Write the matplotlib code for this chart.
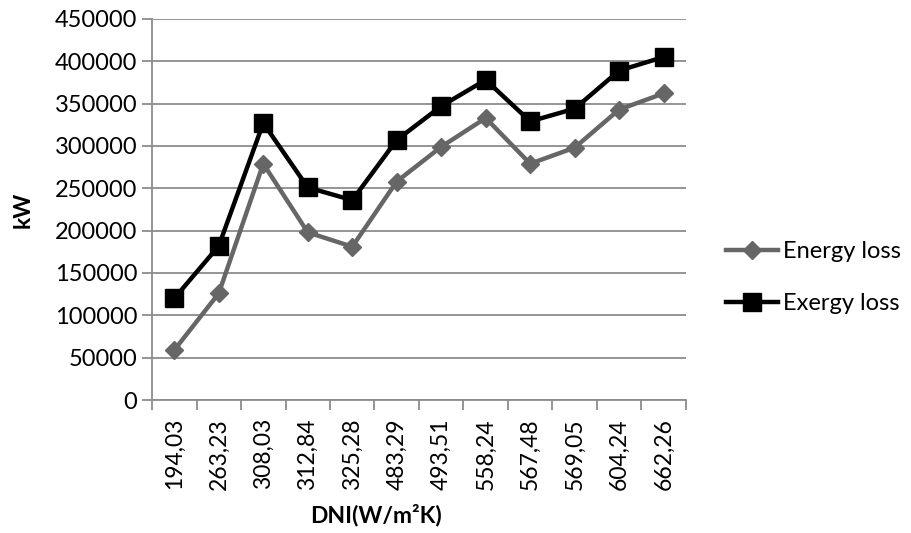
import matplotlib.pyplot as plt
import numpy as np

dni_labels = ["194,03", "263,23", "308,03", "312,84", "325,28", "483,29",
              "493,51", "558,24", "567,48", "569,05", "604,24", "662,26"]
energy_loss = [59000, 126000, 279000, 198000, 181000, 258000,
               299000, 333000, 279000, 298000, 343000, 362000]
exergy_loss = [120000, 182000, 327000, 251000, 236000, 307000,
               347000, 378000, 329000, 344000, 389000, 405000]

plt.rcParams['font.family'] = ['Lato', 'DejaVu Sans']

fig = plt.figure(figsize=(9.11, 5.33), dpi=100)
ax = fig.add_axes([0.1669, 0.2495, 0.586, 0.715])

x = np.arange(len(dni_labels))
grid_col = "#8c8c8c"

ax.plot(x, energy_loss, color="#666666", lw=3.2, marker="D", ms=9.5,
        label="Energy loss", zorder=3)
ax.plot(x, exergy_loss, color="black", lw=3.2, marker="s", ms=12.5,
        label="Exergy loss", zorder=4)

ax.set_xlim(-0.5, len(dni_labels) - 0.5)
ax.set_ylim(0, 450000)
ax.set_yticks(np.arange(0, 450001, 50000))
ax.yaxis.grid(True, color=grid_col, lw=1.3)
ax.set_axisbelow(True)

# category ticks sit between the points
ax.set_xticks(x)
ax.set_xticklabels(dni_labels, rotation=90, fontsize=16.5)
ax.tick_params(axis="x", which="major", length=0, pad=13)
ax.set_xticks(np.arange(-0.5, len(dni_labels)), minor=True)
ax.tick_params(axis="x", which="minor", length=7, color=grid_col, width=1.3)
ax.tick_params(axis="y", length=7, color=grid_col, width=1.3, labelsize=17)

for side in ["top", "right"]:
    ax.spines[side].set_visible(False)
ax.spines["left"].set_color(grid_col)
ax.spines["bottom"].set_color(grid_col)
ax.spines["left"].set_linewidth(1.3)
ax.spines["bottom"].set_linewidth(1.3)

ax.set_xlabel("DNI(W/m²K)", fontsize=16.5, fontweight="bold")
ax.xaxis.set_label_coords(0.42, -0.272)
ax.set_ylabel("kW", fontsize=16.5, fontweight="bold")
ax.yaxis.set_label_coords(-0.222, 0.5)

fig.legend(loc="center left", bbox_to_anchor=(0.774, 0.479), frameon=False,
           fontsize=17, handlelength=2.2, handletextpad=0.2, labelspacing=1.3)

fig.savefig("out.png", dpi=100)
